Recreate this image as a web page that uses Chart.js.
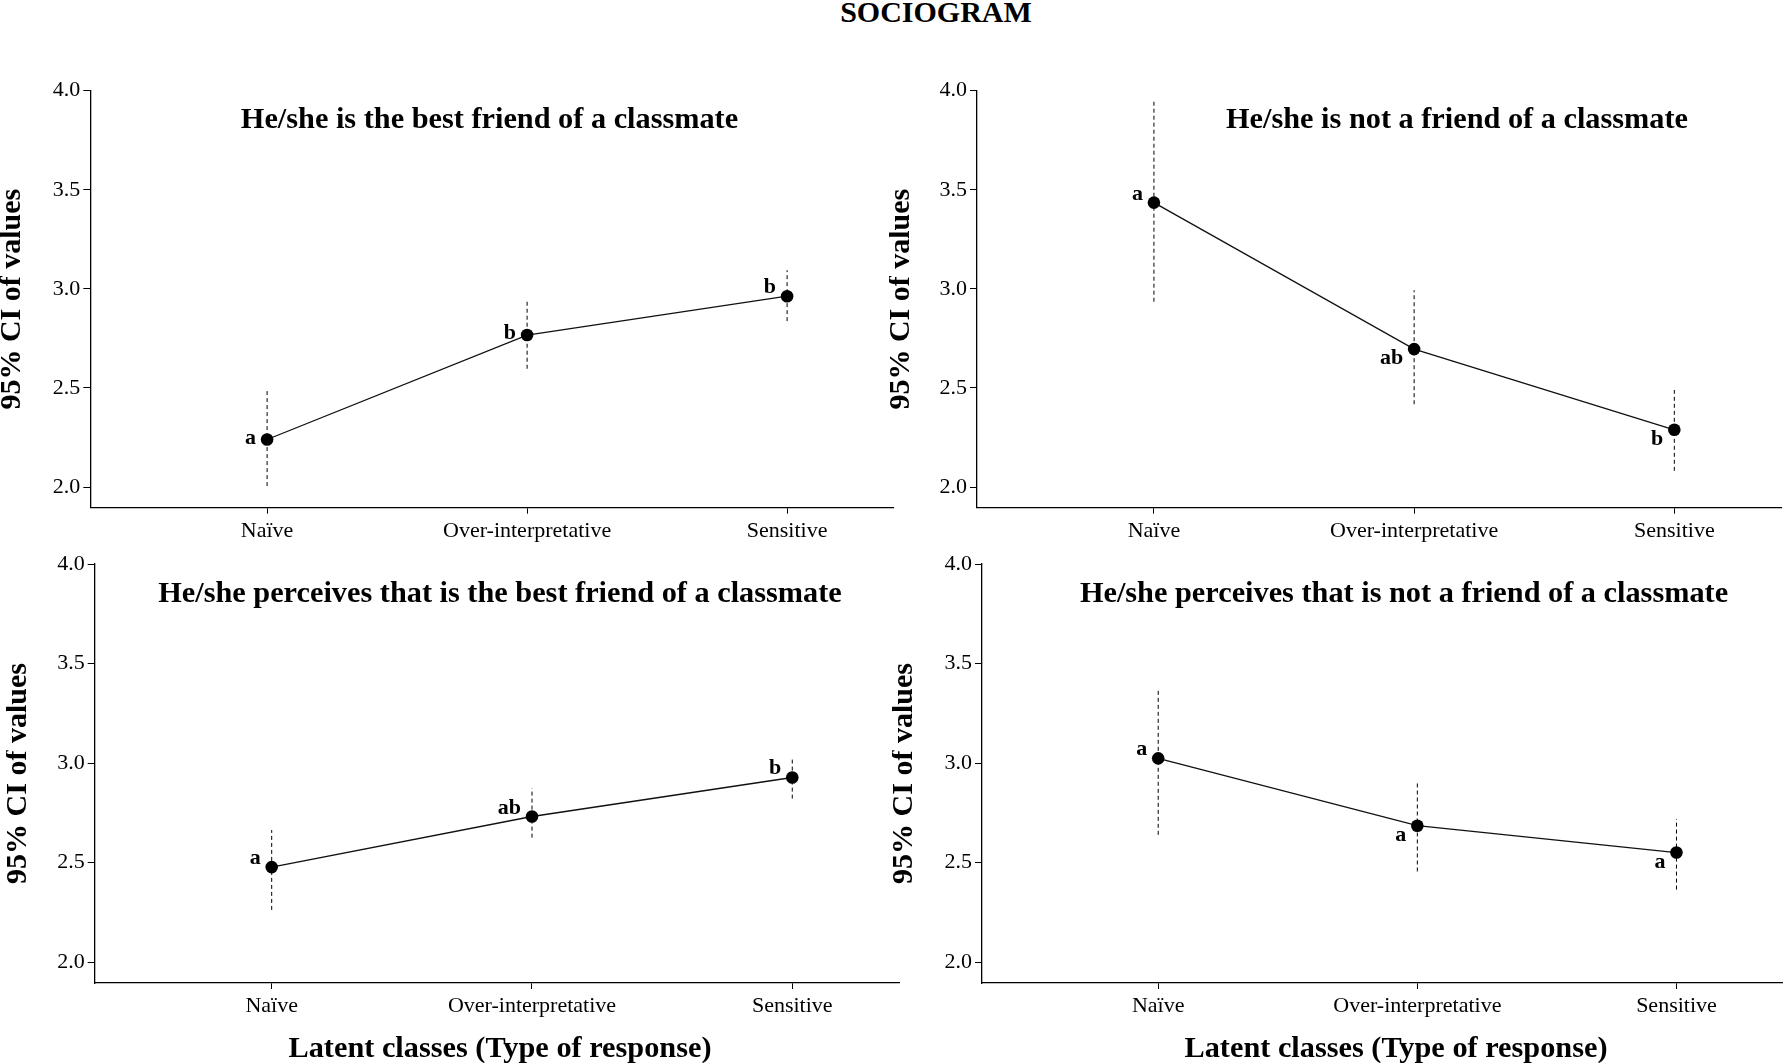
<!DOCTYPE html>
<html>
<head>
<meta charset="utf-8">
<title>Sociogram</title>
<script src="https://cdn.jsdelivr.net/npm/chart.js@4.4.1/dist/chart.umd.min.js"></script>
<style>
    html, body { margin: 0; padding: 0; background: #fff; }
    body { width: 1789px; height: 1063px; position: relative; overflow: hidden; font-family: 'Liberation Serif', 'Times New Roman', serif; }
    canvas { position: absolute; }
    #mainTitle { position: absolute; top: -3px; left: 936px; transform: translateX(-50%); font-size: 30px; line-height: 30px; font-weight: bold; white-space: nowrap; color: #000; }
</style>
</head>
<body>
<div id="mainTitle">SOCIOGRAM</div>
<canvas id="c0"></canvas>
<canvas id="c1"></canvas>
<canvas id="c2"></canvas>
<canvas id="c3"></canvas>
<script>
// --- data ---
const categories = ['Naïve', 'Over-interpretative', 'Sensitive'];
const yTicks = [2.0, 2.5, 3.0, 3.5, 4.0];

const titleBest = 'He/she is the best friend of a classmate';
const meanBest = [2.240, 2.767, 2.963];
const lowBest = [2.005, 2.597, 2.837];
const highBest = [2.493, 2.949, 3.094];
const groupsBest = ['a', 'b', 'b'];

const titleNot = 'He/she is not a friend of a classmate';
const meanNot = [3.435, 2.696, 2.289];
const lowNot = [2.935, 2.418, 2.082];
const highNot = [3.947, 2.993, 2.490];
const groupsNot = ['a', 'ab', 'b'];

const titlePercBest = 'He/she perceives that is the best friend of a classmate';
const meanPercBest = [2.478, 2.732, 2.928];
const lowPercBest = [2.263, 2.626, 2.822];
const highPercBest = [2.664, 2.874, 3.032];
const groupsPercBest = ['a', 'ab', 'b'];

const titlePercNot = 'He/she perceives that is not a friend of a classmate';
const meanPercNot = [3.024, 2.686, 2.551];
const lowPercNot = [2.640, 2.456, 2.365];
const highPercNot = [3.377, 2.908, 2.720];
const groupsPercNot = ['a', 'a', 'a'];

const yTitle = '95% CI of values';
const xTitle = 'Latent classes (Type of response)';

// --- layout (page pixels) ---
const FONT = '"Liberation Serif", "Times New Roman", serif';

const panels = [
    { id: 'c0', title: titleBest, mean: meanBest, low: lowBest, high: highBest, groups: groupsBest,
      places: ['left', 'left', 'up'],
      box: { left: 0, top: 40, width: 900, height: 530 }, yW: 90.3, xH: 62.3, padTop: 50.6, padRight: 5,
      titleX: 489.5, xTitleX: null },
    { id: 'c1', title: titleNot, mean: meanNot, low: lowNot, high: highNot, groups: groupsNot,
      places: ['up', 'down', 'down'],
      box: { left: 889, top: 40, width: 900, height: 530 }, yW: 88, xH: 62.3, padTop: 50.6, padRight: 8,
      titleX: 1457 - 889, xTitleX: null },
    { id: 'c2', title: titlePercBest, mean: meanPercBest, low: lowPercBest, high: highPercBest, groups: groupsPercBest,
      places: ['up', 'up', 'up'],
      box: { left: 6, top: 530, width: 900, height: 533 }, yW: 88.7, xH: 80, padTop: 34, padRight: 7,
      titleX: 500 - 6, xTitleX: 500 - 6 },
    { id: 'c3', title: titlePercNot, mean: meanPercNot, low: lowPercNot, high: highPercNot, groups: groupsPercNot,
      places: ['up', 'down', 'down'],
      box: { left: 892, top: 530, width: 897, height: 533 }, yW: 90, xH: 80, padTop: 34, padRight: 3,
      titleX: 1404 - 892, xTitleX: 1396 - 892 },
];

const letterOffset = { up: -3, down: 15, left: 4 };

const annotate = {
    id: 'annotate',
    afterDatasetsDraw(chart, args, opts) {
        const { ctx, chartArea } = chart;
        ctx.save();
        ctx.fillStyle = '#000';
        ctx.font = `bold 30.3px ${FONT}`;
        ctx.textAlign = 'center';
        ctx.textBaseline = 'alphabetic';
        ctx.fillText(opts.title, opts.titleX, chartArea.top + 37.7);

        // x axis title, only on the bottom row
        if (opts.xTitleX !== null) {
            ctx.fillText(xTitle, opts.xTitleX, chart.height - 6);
        }

        ctx.font = `bold 22px ${FONT}`;
        ctx.textAlign = 'right';
        const meta = chart.getDatasetMeta(1);
        meta.data.forEach((pt, i) => {
            ctx.fillText(opts.groups[i], pt.x - 11, pt.y + letterOffset[opts.places[i]]);
        });
        ctx.restore();
    },
};

function ciSegments(low, high) {
    const pts = [];
    low.forEach((lo, i) => {
        pts.push({ x: i + 1, y: lo }, { x: i + 1, y: high[i] }, { x: i + 1, y: null });
    });
    return pts;
}

function buildPanel(p) {
    const cv = document.getElementById(p.id);
    cv.width = p.box.width;
    cv.height = p.box.height;
    cv.style.left = p.box.left + 'px';
    cv.style.top = p.box.top + 'px';
    cv.style.width = p.box.width + 'px';
    cv.style.height = p.box.height + 'px';

    const axisGrid = (len) => ({
        display: true, drawOnChartArea: false, drawTicks: true, tickLength: len, color: '#000', lineWidth: 1,
    });
    const axisBorder = { display: true, color: '#000', width: 1.3 };

    return new Chart(cv, {
        type: 'line',
        data: {
            datasets: [{
                data: ciSegments(p.low, p.high),
                borderColor: '#000',
                borderWidth: 1,
                borderDash: [4, 3],
                pointRadius: 0,
                spanGaps: false,
                fill: false,
            }, {
                data: p.mean.map((v, i) => ({ x: i + 1, y: v })),
                borderColor: '#111',
                borderWidth: 1.3,
                tension: 0,
                pointRadius: 6.3,
                pointBackgroundColor: '#000',
                pointBorderColor: '#000',
                pointBorderWidth: 0,
                fill: false,
            }],
        },
        options: {
            responsive: false,
            animation: false,
            events: [],
            layout: { padding: { top: p.padTop, right: p.padRight, bottom: 0, left: 0 } },
            plugins: {
                legend: { display: false },
                title: { display: false },
                tooltip: { enabled: false },
                annotate: { title: p.title, titleX: p.titleX, xTitleX: p.xTitleX, groups: p.groups, places: p.places },
            },
            scales: {
                x: {
                    type: 'linear',
                    min: 0.32,
                    max: 3.41,
                    afterBuildTicks: (s) => { s.ticks = categories.map((c, i) => ({ value: i + 1 })); },
                    afterFit: (s) => { s.height = p.xH; },
                    ticks: {
                        callback: (v) => categories[Math.round(v) - 1],
                        color: '#000',
                        font: { family: FONT, size: 22 },
                        padding: 4,
                        maxRotation: 0,
                        autoSkip: false,
                    },
                    grid: axisGrid(6),
                    border: axisBorder,
                },
                y: {
                    min: 1.896,
                    max: 4.0,
                    afterBuildTicks: (s) => { s.ticks = yTicks.map((v) => ({ value: v })); },
                    afterFit: (s) => { s.width = p.yW; },
                    ticks: {
                        callback: (v) => Number(v).toFixed(1),
                        color: '#000',
                        font: { family: FONT, size: 22 },
                        padding: 3,
                    },
                    grid: axisGrid(7),
                    border: axisBorder,
                    title: {
                        display: true,
                        text: yTitle,
                        color: '#000',
                        font: { family: FONT, size: 30, weight: 'bold', lineHeight: 0.82 },
                        padding: 0,
                    },
                },
            },
        },
        plugins: [annotate],
    });
}

panels.forEach(buildPanel);
</script>
</body>
</html>
